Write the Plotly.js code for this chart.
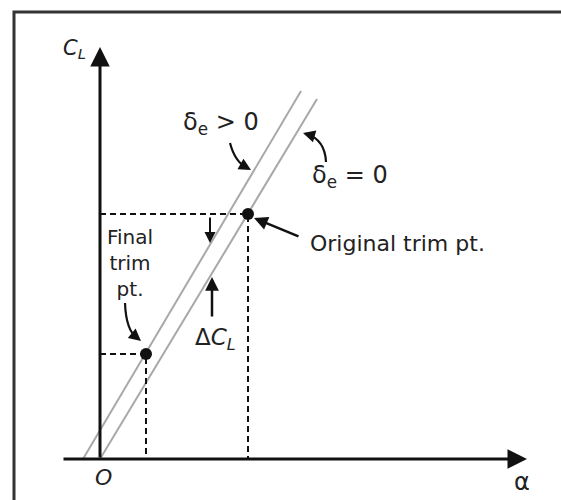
<!DOCTYPE html>
<html>
<head>
<meta charset="utf-8">
<script src="https://cdn.plot.ly/plotly-3.0.1.min.js"></script>
<style>html,body{margin:0;padding:0;background:#fff;}#chart{width:561px;height:500px;}</style>
</head>
<body>
<div id="chart"></div>
<script>
// Schematic data (arbitrary units: angle of attack alpha, lift coefficient CL)
const lineZeroAlpha = [0, 21.7];     // delta_e = 0 lift curve
const lineZeroCL    = [0, 36.0];
const linePosAlpha  = [-1.7, 20.1];  // delta_e > 0 lift curve
const linePosCL     = [0, 36.8];
const trimNames = ['Original trim pt.', 'Final trim pt.'];
const trimAlpha = [14.8, 4.6];
const trimCL    = [24.5, 10.5];

// Layout helpers: plot area == whole figure, 10 px per unit, origin at pixel (100,459)
const W = 561, H = 500, OX = 100, OY = 459, S = 10;
const dx = px => (px - OX) / S;
const dy = py => (OY - py) / S;
const FONT = 'DejaVu Sans, sans-serif';

const traces = [];
traces.push({x: lineZeroAlpha, y: lineZeroCL, mode: 'lines', line: {color: '#a8a8a8', width: 2}, hoverinfo: 'skip', name: 'δe = 0'});
traces.push({x: linePosAlpha, y: linePosCL, mode: 'lines', line: {color: '#a8a8a8', width: 2}, hoverinfo: 'skip', name: 'δe > 0'});
for (let i = 0; i < trimAlpha.length; i++) {
  traces.push({x: [0, trimAlpha[i], trimAlpha[i]], y: [trimCL[i], trimCL[i], 0], mode: 'lines',
    line: {color: '#111', width: 2, dash: '6px,4px'}, hoverinfo: 'skip', name: trimNames[i]});
}
traces.push({x: trimAlpha, y: trimCL, mode: 'markers', marker: {color: '#111', size: 12}, text: trimNames, hoverinfo: 'text'});

function txt(text, px, py, size, xanchor) {
  return {text: text, x: dx(px), y: dy(py), xref: 'x', yref: 'y', showarrow: false,
    xanchor: xanchor || 'center', yanchor: 'middle', font: {family: FONT, size: size || 17, color: '#222'}};
}
function arrow(hx, hy, tx, ty, w, sz) {
  return {text: '', x: dx(hx), y: dy(hy), xref: 'x', yref: 'y', ax: tx - hx, ay: ty - hy,
    showarrow: true, arrowhead: 2, arrowsize: sz || 1, arrowwidth: w || 2, arrowcolor: '#111', standoff: 0, startstandoff: 0};
}
function curve(p0, c, p1) {
  return {type: 'path', xref: 'x', yref: 'y', line: {color: '#111', width: 2.2},
    path: `M ${dx(p0[0])} ${dy(p0[1])} Q ${dx(c[0])} ${dy(c[1])} ${dx(p1[0])} ${dy(p1[1])}`};
}

const annotations = [
  // axes
  arrow(527, OY, 62, OY, 3, 1.3),
  arrow(OX, 47, OX, OY, 3, 1.3),
  // straight pointers
  arrow(210, 243, 210, 216, 2, 1.1),
  arrow(212, 277, 212, 318, 2.5, 1.1),
  arrow(254, 218, 300, 237, 2.5, 1.1),
  // heads of curved pointers
  arrow(251, 170, 244, 166, 2.2, 1.1),
  arrow(303, 133, 310, 135, 2.2, 1.1),
  arrow(141, 341, 135, 336, 2.2, 1.1),
  // labels
  txt('<i>C</i><sub><i>L</i></sub>', 74, 49, 21),
  txt('δ<sub>e</sub> &gt; 0', 181, 123, 24, 'left'),
  txt('δ<sub>e</sub> = 0', 310, 176, 24, 'left'),
  txt('Original trim pt.', 308, 243, 22, 'left'),
  txt('Final<br>trim<br>pt.', 130, 263, 20),
  txt('Δ<i>C</i><sub><i>L</i></sub>', 215, 339, 23),
  txt('<i>O</i>', 103, 477, 22),
  txt('α', 522, 482, 24)
];

const shapes = [
  {type: 'rect', xref: 'paper', yref: 'paper', x0: 14 / W, x1: 1.2, y0: -0.2, y1: 1 - 12 / H,
    line: {color: '#333', width: 3}, fillcolor: 'rgba(0,0,0,0)'},
  curve([230, 143], [235, 162], [247, 168]),
  curve([326, 162], [325, 140], [307, 134]),
  curve([125, 303], [126, 330], [137, 338])
];

const layout = {
  width: W, height: H, margin: {l: 0, r: 0, t: 0, b: 0},
  paper_bgcolor: '#fff', plot_bgcolor: '#fff', showlegend: false,
  xaxis: {range: [dx(0), dx(W)], visible: false, fixedrange: true},
  yaxis: {range: [dy(H), dy(0)], visible: false, fixedrange: true},
  annotations: annotations, shapes: shapes
};
Plotly.newPlot('chart', traces, layout, {displayModeBar: false, staticPlot: true});
</script>
</body>
</html>
